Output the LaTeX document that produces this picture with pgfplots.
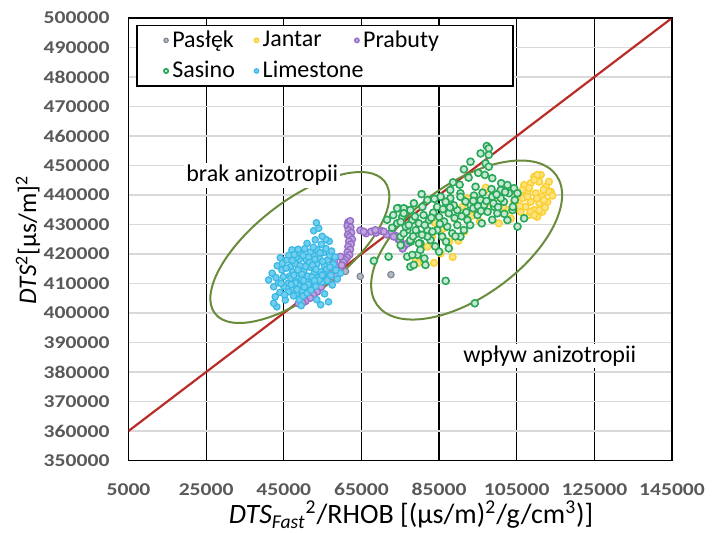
\documentclass[border=0pt]{standalone}
\usepackage{fontspec}
\setmainfont{Carlito}
\newfontfamily\tickfont{Carlito}[FakeStretch=1.2]
\usepackage{pgfplots}
\pgfplotsset{compat=1.18}
\usetikzlibrary{shapes.geometric}

\definecolor{cGray}{RGB}{128,138,150}
\definecolor{cYellow}{RGB}{250,208,50}
\definecolor{cPurple}{RGB}{150,110,200}
\definecolor{cGreen}{RGB}{40,168,88}
\definecolor{cCyan}{RGB}{55,185,230}
\definecolor{redline}{RGB}{185,45,40}
\definecolor{ellcol}{RGB}{105,140,60}
\definecolor{tickgray}{RGB}{89,89,89}

\begin{document}
\begin{tikzpicture}
\begin{axis}[
  width=271.75pt, height=221.25pt,
  scale only axis,
  xmin=5000, xmax=145000,
  ymin=350000, ymax=500000,
  xtick={5000,25000,...,145000},
  ytick={350000,360000,...,500000},
  scaled ticks=false,
  /pgf/number format/.cd, fixed, precision=0, 1000 sep={}, assume math mode=true,
  /pgfplots/.cd,
  major tick length=0pt,
  xmajorgrids, ymajorgrids,
  x grid style={black, line width=0.6pt},
  y grid style={black!15, line width=0.6pt},
  axis line style={black, line width=0.6pt},
  tick label style={font=\tickfont\fontsize{9}{10}\selectfont\bfseries, text=tickgray},
  xticklabel style={inner sep=0pt, yshift=-11.3pt},
  yticklabel style={xshift=-6pt},
  xlabel={\textit{DTS}\textsubscript{\textit{Fast}}\textsuperscript{2}/RHOB [(µs/m)\textsuperscript{2}/g/cm\textsuperscript{3})]},
  ylabel={\textit{DTS}\textsuperscript{2}[µs/m]\textsuperscript{2}},
  xlabel style={font=\fontsize{14}{16}\selectfont, inner sep=0pt, at={(axis description cs:0.52,-0.143)}, anchor=base},
  ylabel style={font=\fontsize{12.7}{15}\selectfont, at={(axis description cs:-0.185,0.498)}, anchor=center},
  legend columns=3,
  legend style={at={(0.0138,0.9850)}, anchor=north west, draw=black,
    line width=0.9pt, fill=white, font=\fontsize{12}{14}\selectfont,
    row sep=1.5pt, inner xsep=13.5pt, inner ysep=0.5pt},
  legend cell align=left,
  legend image code/.code={\draw[#1, mark size=1.1pt, line width=0.3pt] plot coordinates {(0pt,0pt)};},
]

% Paslek
\addplot[only marks, mark=*, mark size=1.6pt, mark options={draw=cGray, fill=cGray!60, line width=0.6pt}]
  coordinates {(64700,412400) (72600,413000) (60900,414100) (59200,414700) (57300,410200)};
\addlegendentry{\makebox[39pt][l]{Pasłęk}}

% Jantar
\addplot[only marks, mark=*, mark size=1.7pt, mark options={draw=cYellow, fill=cYellow!60, line width=0.7pt}]
  coordinates {
    (109500,446200) (110800,444500) (108600,444000) (112500,442800) (113800,441100)
    (107800,441100) (109900,440600) (111600,439400) (106500,438900) (108600,437700)
    (110800,437200) (112900,437700) (107300,436000) (109500,434900) (111600,434300)
    (108200,433200) (110300,432600) (106000,434300) (104700,437200) (105200,440000)
    (106900,443400) (111200,446800) (113300,444500) (110300,446800) (109500,445100)
    (113300,441100) (112000,438300) (110800,434900) (108600,434300) (107800,439400)
    (106500,441700) (109500,433200) (114200,439800) (111900,441800) (108200,442400)
    (105800,436300) (112300,435800) (110200,438900)
    (80200,417400) (82000,422500) (79000,418000) (80800,417600) (83700,417000)
    (85400,420200) (87600,424200) (91500,427600) (94900,435500) (96600,441100)
    (100400,430400) (102600,434900) (104300,437700) (92300,438900) (83200,425900)
    (89000,432000) (98000,437500) (86000,428500) (95500,431000) (101500,436000)
    (103500,432000) (97000,442500) (91000,436000) (88500,419000) (84000,430500)
    (79800,417000) (81100,417300) (99500,439200) (93500,433000) (90000,424500)
  };
\addlegendentry{\makebox[44pt][l]{Jantar}}

% Prabuty
\addplot[only marks, mark=*, mark size=1.7pt, mark options={draw=cPurple, fill=cPurple!60, line width=0.7pt}]
  coordinates {
    (61600,430800) (62100,431200) (61400,429500) (62200,429000) (61700,428000)
    (62400,427200) (61500,426500) (62000,425800) (62600,425000) (61800,424300)
    (62300,423300) (61600,422500) (62100,421500) (61400,420600) (61900,419700)
    (61300,418800) (60800,418000) (60300,417300)
    (64700,428000) (66200,427000) (67500,427600) (68800,427200) (70200,427800)
    (71500,426600) (72800,427400) (73800,426200) (74500,425000) (75200,423800)
    (76000,422600) (76800,423500) (75600,421800) (74800,424800) (77500,424200)
    (65600,427600) (68600,428100) (70800,427600) (73300,425900)
    (57000,415500) (57800,413800) (58600,412600) (59400,414900) (58000,417600)
    (59900,416200) (56500,412200) (55600,410800) (54600,408800) (53600,407200)
    (52600,406200) (51800,405100) (50600,404000) (49800,403500) (48800,403200)
    (47500,406700) (49300,407200) (51000,407800) (58300,415700) (59600,419100)
  };
\addlegendentry{\makebox[59.5pt][l]{Prabuty}}

% Sasino
\addplot[only marks, mark=*, mark size=1.75pt, mark options={draw=cGreen, fill=cGreen!25, line width=0.8pt}]
  coordinates {
    (97300,456600) (97800,455800) (95700,454100) (97800,453600) (93100,451300)
    (91400,448700) (97000,450700) (97800,449600) (98700,445700) (94400,442800)
    (90500,440600) (87900,438900) (86700,437700) (84500,436000) (80700,436000)
    (76800,434900) (74600,435500) (75500,432600) (78100,431500) (79800,430400)
    (82400,431500) (85000,432600) (87500,433800) (89700,434900) (93100,436600)
    (95700,438300) (98700,439400) (100900,441700) (102600,443400) (104300,442300)
    (99200,436000) (101700,437700) (103900,434900) (106900,432100) (105200,429300)
    (102600,431500) (100000,433800) (97500,434300) (94900,433200) (92300,431500)
    (89700,429800) (87100,429300) (84500,428100) (82000,428100) (79400,427000)
    (76800,428100) (75100,425900) (77700,424200) (80200,423600) (82800,424700)
    (85800,425900) (88400,427000) (91400,428100) (90500,425900) (87500,421900)
    (85000,420800) (79400,419700) (76800,419100) (77600,415700) (78500,416300)
    (72000,419100) (68200,417700) (86700,410900) (94200,403300) (74200,430400)
    (76400,429300) (93800,435500) (96600,436600) (100900,438900) (103000,440600)
    (105200,440600) (90500,439400) (87900,441700) (85400,439400) (82000,438300)
    (78500,437200) (75900,435500) (74200,435500) (75900,433800) (77600,434900)
    (75100,430900) (77200,429800) (79000,428100) (75900,427000) (77600,424700)
    (79800,423600) (75100,423000) (80200,421400) (78100,419700) (82000,425900)
    (81200,418500) (81500,416300) (83500,434000) (86000,435200) (88800,436500)
    (91800,437800) (94000,439800) (96200,440800) (98500,442000) (101000,444000)
    (83300,427600) (86300,431000) (89000,432200) (92000,434200) (95000,436200)
    (97200,438000) (99800,440200) (102000,441000) (104500,438300) (80600,426500)
    (84000,422600) (86800,424200) (89200,426000) (93000,429800) (96000,430400)
    (98700,431600) (101800,433600) (104000,436000) (88600,444300) (92600,445900)
    (73200,433200) (72900,428900) (71600,431600) (81000,433200) (83800,438700)
    (96800,446800) (95100,447500) (80500,440300) (78800,432700) (90300,443500)
    (85200,430200) (87800,435800) (90800,432800) (93800,438000) (99000,437200)
    (83000,432300) (81300,429800) (78300,426000) (95800,434600) (100200,435900)
  };
\addlegendentry{\makebox[39pt][l]{Sasino}}

% Limestone
\addplot[only marks, mark=*, mark size=1.6pt, mark options={draw=cCyan, fill=cCyan!70, line width=0.6pt}]
  coordinates {
    (41100,411200) (42000,413500) (42400,408900) (42800,405500) (43200,402100)
    (42400,403300) (43600,410300) (44500,414600) (44900,412300) (45400,404400)
    (44000,407000) (43300,416000) (44100,418700) (45800,418000) (46700,415700)
    (47900,416800) (47100,421400) (49300,420200) (51000,423600) (52700,427900)
    (53400,430600) (54000,428700) (54700,423300)
    (46000,410000) (46500,412500) (47000,408000) (47300,414000) (47800,411000)
    (48200,406500) (48500,413500) (48800,409500) (49200,416000) (49500,411500)
    (49800,407500) (50200,414500) (50500,410000) (50800,418000) (51200,412500)
    (51500,408500) (51800,415500) (52100,410500) (52500,419500) (52800,413500)
    (53200,409000) (53500,416500) (53800,412000) (54200,418500) (54500,414000)
    (54800,410500) (55200,420500) (55500,416000) (55900,421800) (56300,418000)
    (56800,419500) (57300,421000) (57800,416500) (58200,419000)
    (46200,407200) (47500,405800) (49000,404500) (50000,405800) (51000,406700)
    (52000,407800) (46800,411800) (48000,410200) (49600,413200) (50600,415800)
    (51600,417300) (52400,416200) (53000,418200) (53600,421500) (54300,420400)
    (55000,417500) (56000,414800) (49000,418200) (48200,419000) (50000,419500)
    (47200,417800) (50400,421800) (51800,420600) (52600,422300) (56700,424300)
    (55800,425000) (54900,426000) (53100,424800)
    (53500,404500) (55500,406500) (57500,409500) (58800,411500) (59600,413500)
    (56500,403800) (54500,402800) (49500,402500) (45000,409000) (45600,415200)
    (47600,412800) (48600,414600) (50100,411000) (51300,409700) (52300,412200)
    (53300,414800) (54100,411200) (55300,413200) (56200,411000) (57100,412800)
    (44300,410000) (43000,412000) (46300,419600) (48700,421600) (51400,419000)
    (45200,406200) (46900,409600) (48400,408000) (50300,408800) (52900,411000)
    (54900,412800) (56900,415600) (58400,414500) (44600,416800) (47700,419800)
  };
\addlegendentry{\makebox[44pt][l]{Limestone}}

% 1:1 line
\addplot[redline, line width=1.1pt, forget plot] coordinates {(5000,360000) (145000,500000)};

% ellipses and notes
\node[draw=ellcol, line width=1pt, ellipse, inner sep=0pt, minimum width=107.5pt, minimum height=46.3pt, rotate=37.9]
  at (axis cs:49130,422200) {};
\node[draw=ellcol, line width=1pt, ellipse, inner sep=0pt, minimum width=110.6pt, minimum height=56.6pt, rotate=36]
  at (axis cs:92100,424740) {};
\node[font=\fontsize{12}{14}\selectfont, fill=white, inner sep=1pt] at (axis cs:39450,446600) {brak anizotropii};
\node[font=\fontsize{12}{14}\selectfont, fill=white, inner sep=1pt] at (axis cs:113500,385400) {wpływ anizotropii};

% top frame
\draw[black, line width=1.3pt] (axis cs:5000,500000) -- (axis cs:145000,500000);
\end{axis}
\pgfresetboundingbox
\path (-64.25pt,-35.75pt) rectangle (294.25pt,230.25pt);
\end{tikzpicture}
\end{document}
